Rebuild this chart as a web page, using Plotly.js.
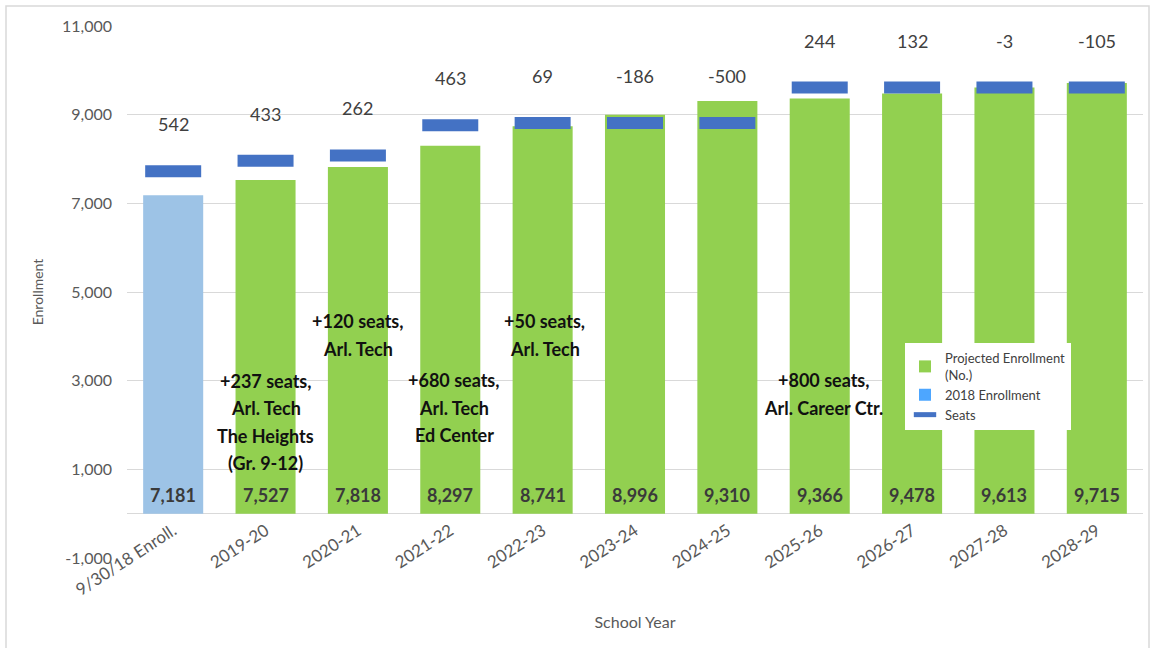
<!DOCTYPE html>
<html><head><meta charset="utf-8">
<script src="https://cdn.plot.ly/plotly-3.0.1.min.js"></script>
<style>html,body{margin:0;padding:0;background:#fff;}#chart{width:1152px;height:648px;}</style>
</head><body><div id="chart"></div>
<script>
const categories = ['9/30/18 Enroll.','2019-20','2020-21','2021-22','2022-23','2023-24','2024-25','2025-26','2026-27','2027-28','2028-29'];
const enrollment = [7181,7527,7818,8297,8741,8996,9310,9366,9478,9613,9715];
const seatBalance = [542,433,262,463,69,-186,-500,244,132,-3,-105];
const seats = enrollment.map((v,i)=>v+seatBalance[i]);
const yTicks = [-1000,1000,3000,5000,7000,9000,11000];

const noteCats = ['2019-20','2020-21','2021-22','2022-23','2025-26'];
const noteLevels = [2070,4030,2390,4030,2700];
const noteLines = [
  ['+237 seats,','Arl. Tech','The Heights','(Gr. 9-12)'],
  ['+120 seats,','Arl. Tech'],
  ['+680 seats,','Arl. Tech','Ed Center'],
  ['+50 seats,','Arl. Tech'],
  ['+800 seats,','Arl. Career Ctr.']
];
const noteXShift = [0,0,4,2,4];

const FONT = 'Lato, "Open Sans", sans-serif';
const GREEN = '#92d050', LIGHTBLUE = '#9dc3e6', LEGBLUE = '#4da6ff', SEATBLUE = '#4472c4';

const traces = [
  {type:'bar', x:categories.slice(1), y:enrollment.slice(1), name:'Projected Enrollment<br>(No.)',
   marker:{color:GREEN}, hoverinfo:'skip', legendgroup:'a'},
  {type:'bar', x:[categories[0]], y:[enrollment[0]], showlegend:false,
   marker:{color:LIGHTBLUE}, hoverinfo:'skip'},
  {type:'bar', x:[categories[0]], y:[null], name:'2018 Enrollment',
   marker:{color:LEGBLUE}, hoverinfo:'skip', legendgroup:'b'},
  {type:'scatter', mode:'markers', x:categories, y:seats, name:'Seats', legendgroup:'c',
   marker:{symbol:'line-ew', size:40, color:SEATBLUE, line:{width:12, color:SEATBLUE}}, hoverinfo:'skip'}
];

const annotations = [];
categories.forEach((c,i)=>{
  annotations.push({x:c, y:0, xref:'x', yref:'y', text:enrollment[i].toLocaleString('en-US'),
    showarrow:false, yshift:19, yanchor:'middle', font:{family:FONT, size:18, color:'#3a3a3a', weight:'bold'}});
  annotations.push({x:c, y:seats[i], xref:'x', yref:'y', text:String(seatBalance[i]),
    showarrow:false, yshift:47, yanchor:'middle', font:{family:FONT, size:18, color:'#404040'}});
});
noteCats.forEach((c,k)=>{
  const lines = noteLines[k];
  const mid = (lines.length-1)/2;
  lines.forEach((t,j)=>{
    annotations.push({x:c, y:noteLevels[k], xref:'x', yref:'y', text:t, showarrow:false,
      yanchor:'middle', yshift:(mid-j)*27.5, xshift:noteXShift[k],
      font:{family:FONT, size:18, color:'#111111', weight:'bold'}});
  });
});

const L=127, T=26, W=1016, H=532;
const layout = {
  width:1152, height:648,
  margin:{l:L, r:1152-L-W, t:T, b:648-T-H},
  paper_bgcolor:'#fff', plot_bgcolor:'#fff',
  font:{family:FONT, color:'#595959'},
  barmode:'overlay', bargap:0.35,
  showlegend:true,
  legend:{x:(905-L)/W, y:(558-343)/H, xanchor:'left', yanchor:'top', bgcolor:'#ffffff',
    font:{family:FONT, size:13, color:'#404040'}, tracegroupgap:6, traceorder:'normal',
    entrywidth:175, entrywidthmode:'pixels'},
  xaxis:{type:'category', categoryorder:'array', categoryarray:categories,
    range:[-0.5, categories.length-0.5], autorange:false,
    anchor:'free', position:1000/12000, tickangle:-33, ticklabelstandoff:3,
    showgrid:false, showline:false, ticks:'', zeroline:false,
    tickfont:{family:FONT, size:17, color:'#595959'},
    title:{text:'School Year', font:{family:FONT, size:16, color:'#595959'}, standoff:18}},
  yaxis:{range:[-1000,11000], autorange:false, tickvals:yTicks,
    ticktext:yTicks.map(v=>v.toLocaleString('en-US')), showline:false,
    gridcolor:'#d9d9d9', gridwidth:1, zeroline:true, zerolinecolor:'#d9d9d9', zerolinewidth:1.5,
    ticks:'', ticklabelstandoff:14,
    tickfont:{family:FONT, size:16, color:'#595959'},
    title:{text:'Enrollment', font:{family:FONT, size:14, color:'#595959'}, standoff:15}},
  annotations:annotations,
  shapes:[{type:'rect', xref:'paper', yref:'paper', x0:(6-L)/W, x1:(1149-L)/W, y0:(558-662)/H, y1:(558-6)/H,
    line:{color:'#d9d9d9', width:1.5}, fillcolor:'rgba(0,0,0,0)', layer:'below'}]
};

Plotly.newPlot('chart', traces, layout, {displayModeBar:false, staticPlot:true});
</script></body></html>
